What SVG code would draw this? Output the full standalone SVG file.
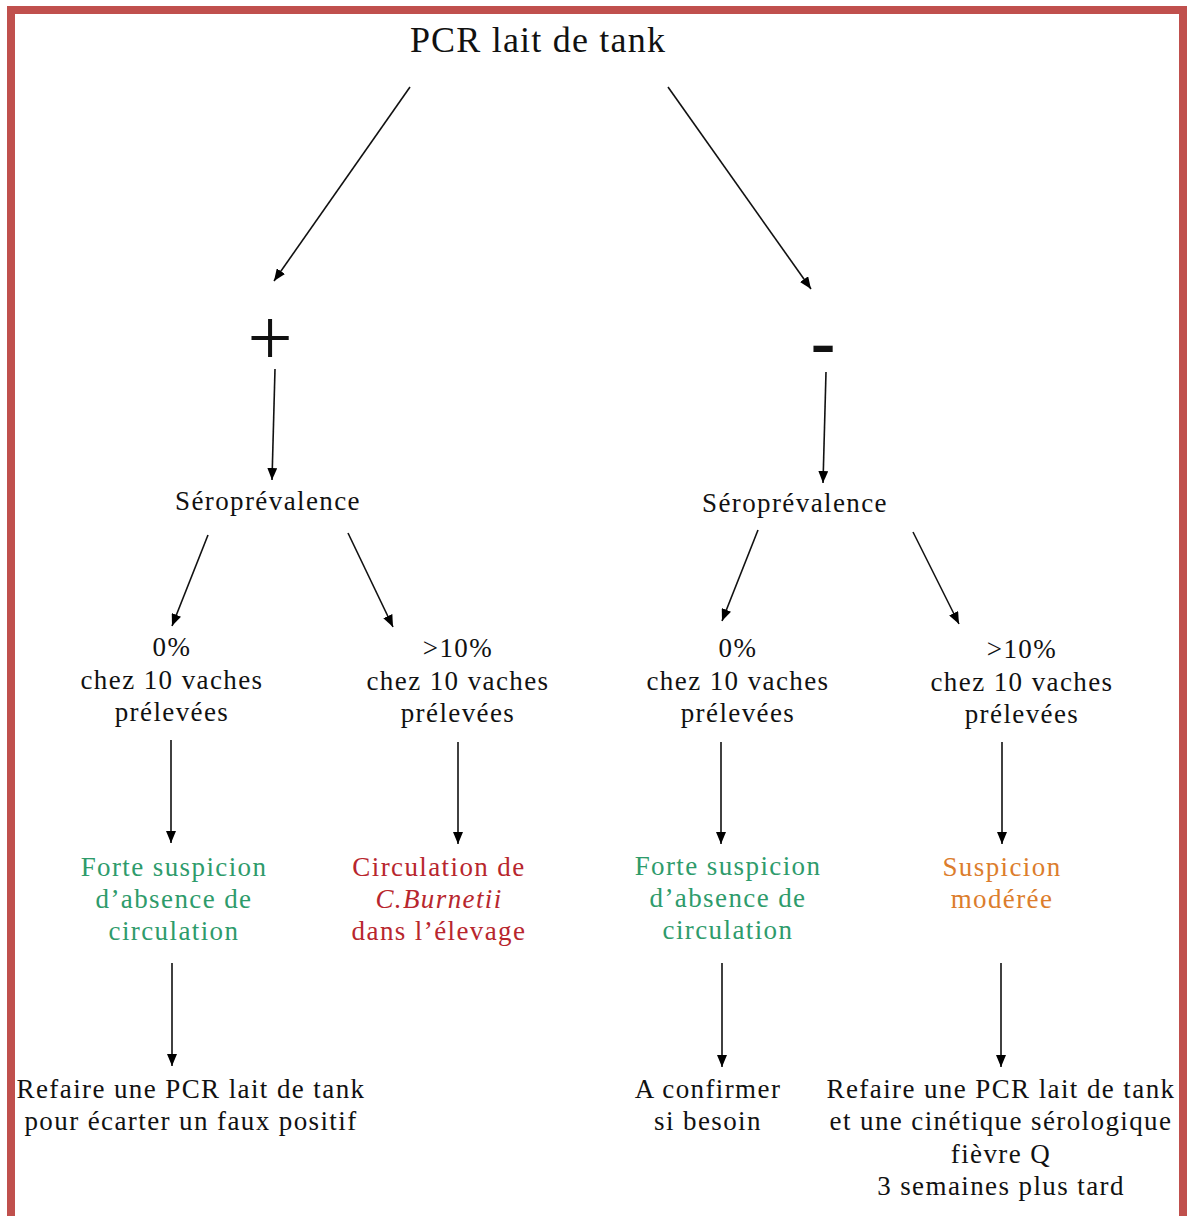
<svg xmlns="http://www.w3.org/2000/svg" width="1188" height="1216" viewBox="0 0 1188 1216">
<defs>
<marker id="ah" viewBox="0 0 12 10" refX="12" refY="5" markerWidth="12" markerHeight="10" markerUnits="userSpaceOnUse" orient="auto">
<path d="M0,0 L12,5 L0,10 Z" fill="#000"/>
</marker>
<style>
.t{font-size:27px;letter-spacing:1.4px}
.g{fill:#2e9b6b}
.r{fill:#b8262d}
.o{fill:#dc7d2c}
.c line{stroke:#111;stroke-width:1.6;marker-end:url(#ah)}
</style>
</defs>
<rect x="0" y="0" width="1188" height="1216" fill="#fff"/>
<rect x="11" y="10" width="1172" height="1230" fill="none" stroke="#c0504d" stroke-width="8"/>
<g font-family="'Liberation Serif', 'DejaVu Serif', serif" text-anchor="middle" fill="#111">
<g id="title"><text x="538" y="52" font-size="36" letter-spacing="1.2">PCR lait de tank</text></g>
<g id="plus"><text x="270" y="365" font-size="80">+</text></g>
<g id="minus"><text x="823" y="366" font-size="74" font-weight="bold">-</text></g>
<g id="sero-left"><text class="t" x="268" y="510">Séroprévalence</text></g>
<g id="sero-right"><text class="t" x="795" y="512">Séroprévalence</text></g>
<g id="l0"><text class="t" x="172" y="656">0%</text><text class="t" x="172" y="689">chez 10 vaches</text><text class="t" x="172" y="721">prélevées</text></g>
<g id="l10"><text class="t" x="458" y="657">&gt;10%</text><text class="t" x="458" y="690">chez 10 vaches</text><text class="t" x="458" y="722">prélevées</text></g>
<g id="r0"><text class="t" x="738" y="657">0%</text><text class="t" x="738" y="690">chez 10 vaches</text><text class="t" x="738" y="722">prélevées</text></g>
<g id="r10"><text class="t" x="1022" y="658">&gt;10%</text><text class="t" x="1022" y="691">chez 10 vaches</text><text class="t" x="1022" y="723">prélevées</text></g>
<g id="l0-res"><text class="t g" x="174" y="876">Forte suspicion</text><text class="t g" x="174" y="908">d’absence de</text><text class="t g" x="174" y="940">circulation</text></g>
<g id="l10-res"><text class="t r" x="439" y="876">Circulation de</text><text class="t r" x="439" y="908" font-style="italic">C.Burnetii</text><text class="t r" x="439" y="940">dans l’élevage</text></g>
<g id="r0-res"><text class="t g" x="728" y="875">Forte suspicion</text><text class="t g" x="728" y="907">d’absence de</text><text class="t g" x="728" y="939">circulation</text></g>
<g id="r10-res"><text class="t o" x="1002" y="876">Suspicion</text><text class="t o" x="1002" y="908">modérée</text></g>
<g id="l0-act"><text class="t" x="191" y="1098">Refaire une PCR lait de tank</text><text class="t" x="191" y="1130">pour écarter un faux positif</text></g>
<g id="r0-act"><text class="t" x="708" y="1098">A confirmer</text><text class="t" x="708" y="1130">si besoin</text></g>
<g id="r10-act"><text class="t" x="1001" y="1098">Refaire une PCR lait de tank</text><text class="t" x="1001" y="1130">et une cinétique sérologique</text><text class="t" x="1001" y="1163">fièvre Q</text><text class="t" x="1001" y="1195">3 semaines plus tard</text></g>
</g>
<g id="connectors" class="c">
<line x1="410" y1="87" x2="274" y2="281"/>
<line x1="668" y1="87" x2="811" y2="289"/>
<line x1="275" y1="369" x2="272" y2="480"/>
<line x1="826" y1="372" x2="823" y2="483"/>
<line x1="208" y1="535" x2="172" y2="626"/>
<line x1="348" y1="533" x2="393" y2="627"/>
<line x1="758" y1="530" x2="722" y2="621"/>
<line x1="913" y1="532" x2="959" y2="624"/>
<line x1="171" y1="740" x2="171" y2="843"/>
<line x1="458" y1="742" x2="458" y2="844"/>
<line x1="721" y1="742" x2="721" y2="844"/>
<line x1="1002" y1="742" x2="1002" y2="844"/>
<line x1="172" y1="963" x2="172" y2="1066"/>
<line x1="722" y1="963" x2="722" y2="1067"/>
<line x1="1001" y1="963" x2="1001" y2="1067"/>
</g>
</svg>
